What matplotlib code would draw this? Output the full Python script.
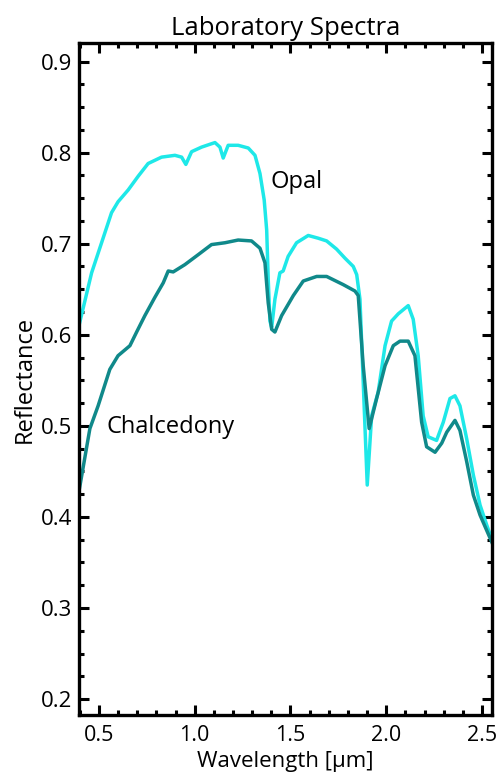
import numpy as np
import matplotlib.pyplot as plt
from matplotlib.ticker import MultipleLocator

# wavelength [um] / reflectance
opal_wl = [0.396, 0.462, 0.514, 0.566, 0.60, 0.653, 0.705, 0.757, 0.827,
           0.897, 0.932, 0.954, 0.984, 1.036, 1.106, 1.132, 1.149, 1.175,
           1.227, 1.28, 1.315, 1.341, 1.363, 1.376, 1.384, 1.393, 1.402,
           1.419, 1.445, 1.462, 1.488, 1.532, 1.593, 1.645, 1.689, 1.741,
           1.785, 1.828, 1.846, 1.863, 1.88, 1.901, 1.924, 1.958, 1.994,
           2.028, 2.063, 2.115, 2.141, 2.167, 2.193, 2.219, 2.263, 2.298,
           2.333, 2.359, 2.385, 2.42, 2.455, 2.49, 2.525, 2.552]
opal_refl = [0.610, 0.668, 0.701, 0.734, 0.746, 0.759, 0.774, 0.788, 0.795,
             0.797, 0.795, 0.787, 0.801, 0.806, 0.811, 0.806, 0.794, 0.808,
             0.808, 0.805, 0.797, 0.777, 0.748, 0.715, 0.661, 0.615, 0.608,
             0.639, 0.668, 0.670, 0.686, 0.701, 0.709, 0.706, 0.703, 0.694,
             0.684, 0.675, 0.666, 0.639, 0.548, 0.435, 0.511, 0.537, 0.588,
             0.615, 0.623, 0.632, 0.617, 0.577, 0.511, 0.488, 0.484, 0.504,
             0.530, 0.533, 0.522, 0.486, 0.446, 0.413, 0.391, 0.375]

chal_wl = [0.396, 0.453, 0.496, 0.557, 0.60, 0.662, 0.697, 0.74, 0.792,
           0.836, 0.862, 0.888, 0.949, 1.019, 1.088, 1.158, 1.227, 1.297,
           1.341, 1.367, 1.384, 1.402, 1.419, 1.454, 1.515, 1.567, 1.637,
           1.689, 1.776, 1.837, 1.854, 1.88, 1.911, 1.95, 1.994, 2.037,
           2.072, 2.115, 2.15, 2.185, 2.211, 2.255, 2.29, 2.316, 2.359,
           2.385, 2.42, 2.455, 2.49, 2.552]
chal_refl = [0.428, 0.497, 0.522, 0.562, 0.577, 0.588, 0.603, 0.621, 0.641,
             0.657, 0.670, 0.669, 0.677, 0.688, 0.699, 0.701, 0.704, 0.703,
             0.695, 0.679, 0.635, 0.606, 0.603, 0.621, 0.643, 0.659, 0.664,
             0.664, 0.655, 0.648, 0.643, 0.566, 0.497, 0.530, 0.566, 0.588,
             0.593, 0.593, 0.577, 0.504, 0.477, 0.471, 0.481, 0.493, 0.506,
             0.495, 0.461, 0.424, 0.402, 0.372]

OPAL_COLOR = "#1ee8e8"
CHAL_COLOR = "#10898a"

plt.rcParams["font.family"] = ["Open Sans", "DejaVu Sans"]

fig = plt.figure(figsize=(5.03, 7.73), dpi=100)
ax = fig.add_axes([0.157, 0.075, 0.821, 0.869])

ax.plot(opal_wl, opal_refl, color=OPAL_COLOR, lw=2.5)
ax.plot(chal_wl, chal_refl, color=CHAL_COLOR, lw=2.5)

ax.text(1.395, 0.768, "Opal", fontsize=17, va="center", ha="left")
ax.text(0.54, 0.499, "Chalcedony", fontsize=17, va="center", ha="left")

ax.set_xlim(0.396, 2.552)
ax.set_ylim(0.1825, 0.92)
ax.xaxis.set_major_locator(MultipleLocator(0.5))
ax.xaxis.set_minor_locator(MultipleLocator(0.1))
ax.yaxis.set_major_locator(MultipleLocator(0.1))
ax.yaxis.set_minor_locator(MultipleLocator(0.025))
ax.xaxis.set_major_formatter(plt.FormatStrFormatter("%.1f"))
ax.yaxis.set_major_formatter(plt.FormatStrFormatter("%.1f"))

ax.tick_params(which="both", direction="in", top=True, right=True,
               width=2.2, labelsize=16)
ax.tick_params(which="major", length=7)
ax.tick_params(which="minor", length=3.5)
ax.tick_params(axis="x", which="major", pad=7, labelsize=15.5)
ax.tick_params(axis="y", which="major", pad=5)
for sp in ax.spines.values():
    sp.set_linewidth(2.4)

ax.set_title("Laboratory Spectra", fontsize=18.5, pad=6)
ax.set_xlabel("Wavelength [µm]", fontsize=16, va="baseline")
ax.xaxis.set_label_coords(0.5, -0.077)
ax.set_ylabel("Reflectance", fontsize=17, labelpad=3)

fig.savefig("out.png", dpi=100)
